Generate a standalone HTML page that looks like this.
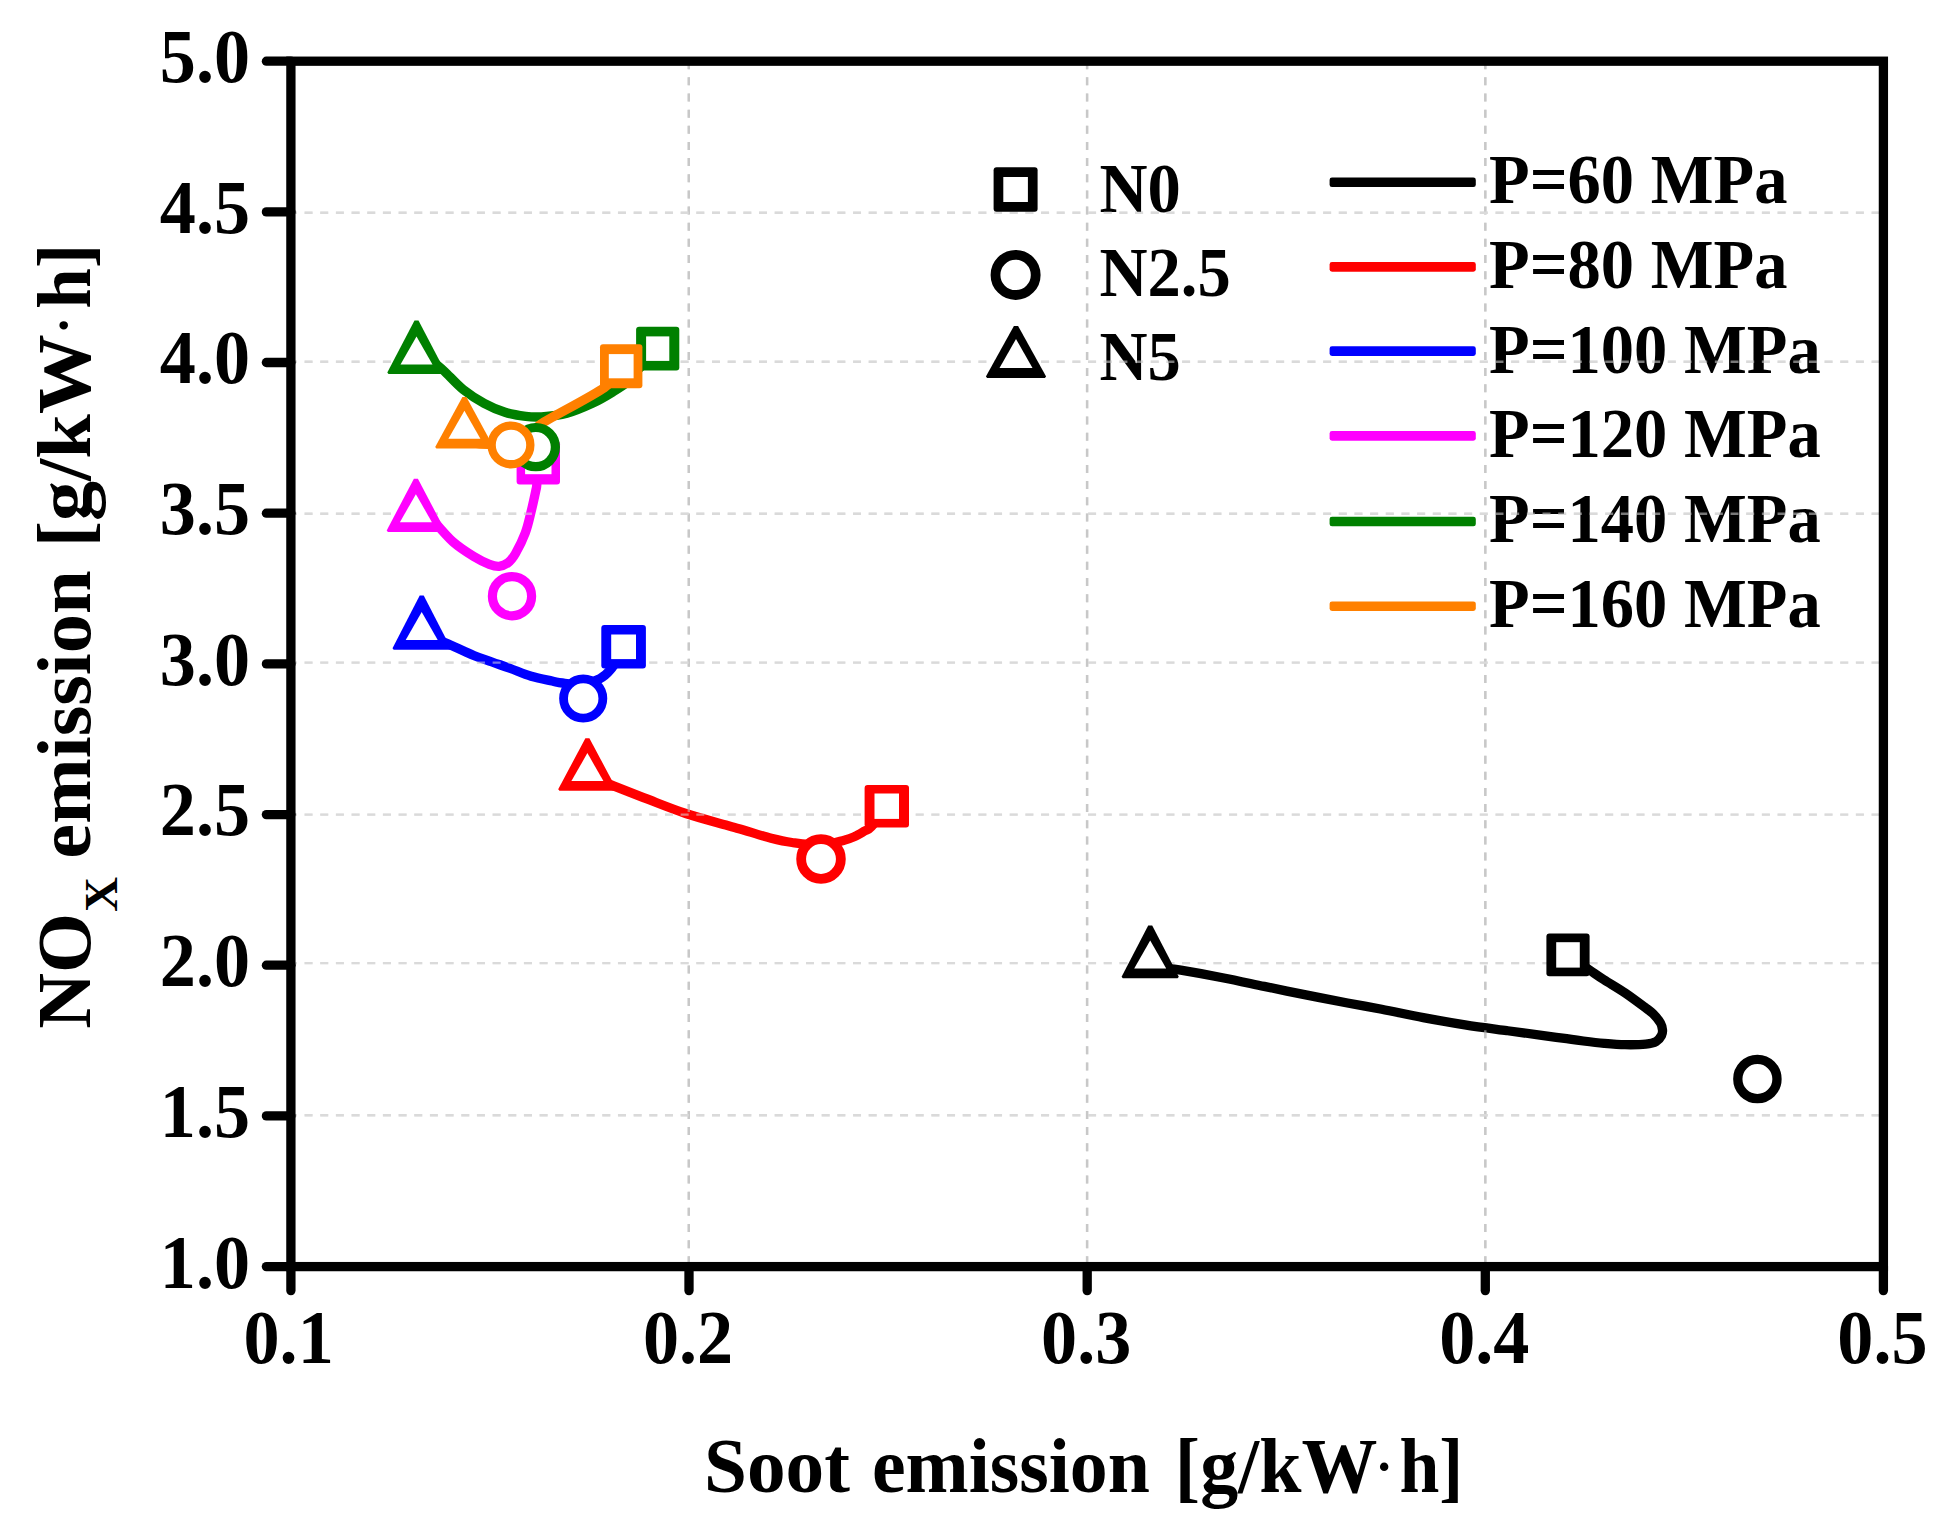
<!DOCTYPE html>
<html lang="en"><head><meta charset="utf-8"><title>NOx vs soot emission</title>
<style>html,body{margin:0;padding:0;background:#fff}body{width:1951px;height:1536px;overflow:hidden}svg{display:block}text{font-family:"Liberation Serif","Times New Roman",serif;font-weight:bold;fill:#000}</style></head><body>
<svg width="1951" height="1536" viewBox="0 0 1951 1536">
<rect width="1951" height="1536" fill="#fff"/>
<g id="grid" fill="none" stroke-width="2.4">
<line x1="688.8" y1="61.2" x2="688.8" y2="1266.6" stroke="#c8c8c8" stroke-dasharray="8 8.15"/>
<line x1="1087.1" y1="61.2" x2="1087.1" y2="1266.6" stroke="#c8c8c8" stroke-dasharray="8 8.15"/>
<line x1="1485.3" y1="61.2" x2="1485.3" y2="1266.6" stroke="#c8c8c8" stroke-dasharray="8 8.15"/>
<line x1="288.9" y1="212.7" x2="1883.4" y2="212.7" stroke="#dadada" stroke-dasharray="8 7.67"/>
<line x1="288.9" y1="361.7" x2="1883.4" y2="361.7" stroke="#dadada" stroke-dasharray="8 7.67"/>
<line x1="288.9" y1="513.7" x2="1883.4" y2="513.7" stroke="#dadada" stroke-dasharray="8 7.67"/>
<line x1="288.9" y1="662.6" x2="1883.4" y2="662.6" stroke="#dadada" stroke-dasharray="8 7.67"/>
<line x1="288.9" y1="814.6" x2="1883.4" y2="814.6" stroke="#dadada" stroke-dasharray="8 7.67"/>
<line x1="288.9" y1="963.1" x2="1883.4" y2="963.1" stroke="#dadada" stroke-dasharray="8 7.67"/>
<line x1="288.9" y1="1115.3" x2="1883.4" y2="1115.3" stroke="#dadada" stroke-dasharray="8 7.67"/>
</g>
<g id="legend-text">
<text transform="translate(1489.0,203.1) scale(0.9440,1)" font-size="70.5" text-anchor="start">P=60 MPa</text>
<text transform="translate(1489.0,288.1) scale(0.9440,1)" font-size="70.5" text-anchor="start">P=80 MPa</text>
<text transform="translate(1489.0,372.5) scale(0.9440,1)" font-size="70.5" text-anchor="start">P=100 MPa</text>
<text transform="translate(1489.0,456.8) scale(0.9440,1)" font-size="70.5" text-anchor="start">P=120 MPa</text>
<text transform="translate(1489.0,542.3) scale(0.9440,1)" font-size="70.5" text-anchor="start">P=140 MPa</text>
<text transform="translate(1489.0,627.2) scale(0.9440,1)" font-size="70.5" text-anchor="start">P=160 MPa</text>
<text transform="translate(1099.5,212.0) scale(0.9440,1)" font-size="70.5" text-anchor="start">N0</text>
<text transform="translate(1099.5,296.4) scale(0.9440,1)" font-size="70.5" text-anchor="start">N2.5</text>
<text transform="translate(1099.5,379.7) scale(0.9440,1)" font-size="70.5" text-anchor="start">N5</text>
</g>
<g id="curves" fill="none" stroke-width="9.3" stroke-linecap="round" stroke-linejoin="round">
<path d="M1165.0,968.0 C1167.6,968.4 1171.2,968.6 1180.8,970.2 C1190.4,971.8 1208.6,975.0 1222.5,977.7 C1236.4,980.4 1250.3,983.5 1264.2,986.4 C1278.1,989.3 1291.9,992.1 1305.8,994.9 C1319.7,997.7 1334.8,1000.6 1347.5,1003.0 C1360.2,1005.4 1369.1,1006.9 1381.7,1009.3 C1394.3,1011.7 1409.4,1015.0 1423.3,1017.6 C1437.2,1020.2 1451.1,1022.7 1465.0,1024.9 C1478.9,1027.1 1493.9,1028.9 1506.7,1030.6 C1519.5,1032.3 1532.4,1034.0 1541.7,1035.3 C1551.0,1036.6 1555.6,1037.2 1562.5,1038.2 C1569.4,1039.2 1576.3,1040.1 1583.3,1041.0 C1590.2,1041.9 1597.2,1042.8 1604.2,1043.4 C1611.2,1044.0 1618.1,1044.6 1625.0,1044.7 C1631.9,1044.8 1640.6,1044.7 1645.8,1044.2 C1651.0,1043.7 1653.6,1043.0 1656.2,1041.5 C1658.8,1040.0 1660.5,1037.4 1661.5,1035.5 C1662.5,1033.6 1662.7,1032.1 1662.5,1030.0 C1662.3,1027.9 1662.1,1025.7 1660.5,1023.0 C1658.9,1020.3 1655.5,1016.2 1653.1,1013.8 C1650.6,1011.2 1650.5,1011.5 1645.8,1008.0 C1641.1,1004.5 1631.9,997.6 1625.0,992.9 C1618.1,988.2 1610.1,983.7 1604.2,979.9 C1598.3,976.1 1595.6,974.1 1589.6,970.0 C1583.6,965.9 1571.6,957.5 1568.0,955.0" stroke="#000000"/>
<path d="M603.0,781.0 C604.6,781.8 606.0,782.8 612.9,785.6 C619.8,788.4 632.1,793.2 644.2,797.9 C656.4,802.5 671.9,808.9 685.8,813.5 C699.7,818.1 718.5,822.9 727.5,825.5 C736.5,828.1 732.7,826.9 740.0,829.0 C747.3,831.1 762.6,836.0 771.2,838.3 C779.9,840.5 783.7,841.4 792.0,842.5 C800.3,843.6 812.3,845.4 821.0,845.0 C829.7,844.6 838.6,841.6 844.2,840.2 C849.8,838.8 851.1,838.2 854.6,836.6 C858.1,835.0 862.2,832.4 865.0,830.8 C867.8,829.1 867.6,830.5 871.2,826.7 C874.9,822.9 884.2,811.1 886.8,808.0" stroke="#ff0000"/>
<path d="M438.0,640.0 C439.7,640.6 442.4,641.3 448.4,643.9 C454.4,646.5 466.5,652.5 473.8,655.5 C481.0,658.5 485.9,659.8 492.0,662.0 C498.1,664.2 503.9,666.1 510.4,668.5 C516.9,670.9 524.3,674.2 531.2,676.3 C538.2,678.4 546.9,679.9 552.1,681.0 C557.3,682.1 557.4,682.5 562.5,683.0 C567.6,683.5 576.8,684.7 583.0,684.0 C589.2,683.3 595.4,681.0 600.0,678.6 C604.6,676.2 606.4,674.6 610.4,669.8 C614.4,665.0 621.7,653.3 624.0,650.0" stroke="#0000ff"/>
<path d="M432.0,519.0 C435.5,522.8 445.9,535.5 452.9,541.8 C459.9,548.0 467.7,552.8 473.8,556.5 C479.8,560.2 485.2,562.7 489.4,564.3 C493.6,565.9 495.9,566.5 499.0,566.3 C502.1,566.0 505.2,564.9 508.0,562.8 C510.8,560.7 512.6,558.5 515.5,553.5 C518.4,548.5 522.7,539.8 525.3,532.9 C527.9,526.0 529.3,519.0 531.0,512.1 C532.7,505.2 534.7,495.9 535.7,491.2 C536.7,486.6 536.4,488.9 536.8,484.5 C537.2,480.1 537.8,468.2 538.0,465.0" stroke="#ff00ff"/>
<path d="M436.0,364.0 C437.4,365.2 440.1,367.2 444.6,371.5 C449.2,375.8 456.7,384.4 463.3,389.7 C469.9,395.0 477.2,399.6 484.2,403.4 C491.1,407.2 498.1,410.1 505.0,412.3 C511.9,414.5 519.7,415.6 525.8,416.3 C531.9,417.1 534.6,417.3 541.5,416.8 C548.4,416.3 558.3,415.5 566.9,413.2 C575.5,410.9 585.1,406.6 592.9,403.0 C600.7,399.4 607.6,395.1 613.8,391.3 C619.9,387.5 625.8,383.8 630.0,380.0 C634.2,376.2 635.3,372.5 639.0,368.5 C642.7,364.5 649.8,358.1 652.0,356.0" stroke="#008000"/>
<path d="M621.2,368.0 C618.4,371.3 617.3,378.6 604.4,387.6 C591.5,396.6 555.7,414.8 544.0,422.0 C532.3,429.2 539.5,427.7 534.0,431.0 C528.5,434.3 520.0,439.8 511.0,442.0 C502.0,444.2 487.8,445.0 480.0,444.0 C472.2,443.0 466.7,437.3 464.0,436.0" stroke="#ff8000"/>
</g>
<g id="legend-lines">
<rect x="1329.6" y="177.50" width="146.2" height="9.6" rx="2.4" fill="#000000"/>
<rect x="1329.6" y="262.10" width="146.2" height="9.6" rx="2.4" fill="#ff0000"/>
<rect x="1329.6" y="346.30" width="146.2" height="9.6" rx="2.4" fill="#0000ff"/>
<rect x="1329.6" y="431.10" width="146.2" height="9.6" rx="2.4" fill="#ff00ff"/>
<rect x="1329.6" y="516.70" width="146.2" height="9.6" rx="2.4" fill="#008000"/>
<rect x="1329.6" y="601.40" width="146.2" height="9.6" rx="2.4" fill="#ff8000"/>
</g>
<use href="#grid" opacity="0.55"/>
<g id="markers">
<polygon points="1122.8,978.2 1121.6,976.7 1148.2,925.4 1152.2,925.4 1178.8,976.7 1177.6,978.2" fill="#000000"/><polygon points="1134.2,968.5 1150.2,940.5 1166.2,968.5" fill="#fff"/>
<rect x="1546.4" y="933.6" width="43.2" height="42.6" rx="3.0" fill="#000000"/><rect x="1556.2" y="942.2" width="23.6" height="25.4" fill="#fff"/>
<circle cx="1757.4" cy="1079.0" r="19.60" fill="#fff" stroke="#000000" stroke-width="9.3"/>
<polygon points="559.4,790.8 558.2,789.3 585.4,738.2 589.4,738.2 616.6,789.3 615.4,790.8" fill="#ff0000"/><polygon points="571.4,781.1 587.4,753.1 603.4,781.1" fill="#fff"/>
<rect x="864.6" y="784.9" width="44.4" height="42.7" rx="3.0" fill="#ff0000"/><rect x="874.5" y="793.5" width="24.5" height="25.4" fill="#fff"/>
<circle cx="821.0" cy="859.0" r="19.85" fill="#fff" stroke="#ff0000" stroke-width="9.8"/>
<polygon points="393.7,649.8 392.5,648.3 419.7,595.6 423.7,595.6 450.9,648.3 449.7,649.8" fill="#0000ff"/><polygon points="405.7,640.1 421.7,612.1 437.7,640.1" fill="#fff"/>
<rect x="601.3" y="625.0" width="44.6" height="43.6" rx="3.0" fill="#0000ff"/><rect x="611.2" y="634.5" width="24.8" height="24.6" fill="#fff"/>
<circle cx="583.2" cy="698.5" r="19.65" fill="#fff" stroke="#0000ff" stroke-width="8.8"/>
<polygon points="387.9,531.9 386.7,530.4 413.9,478.8 417.9,478.8 445.1,530.4 443.9,531.9" fill="#ff00ff"/><polygon points="399.9,522.2 415.9,494.2 431.9,522.2" fill="#fff"/>
<rect x="516.6" y="441.3" width="43.4" height="43.2" rx="3.0" fill="#ff00ff"/><rect x="525.1" y="451.6" width="26.4" height="22.6" fill="#fff"/>
<circle cx="512.0" cy="596.2" r="19.60" fill="#fff" stroke="#ff00ff" stroke-width="9.2"/>
<polygon points="388.5,374.1 387.3,372.6 414.5,320.4 418.5,320.4 445.7,372.6 444.5,374.1" fill="#008000"/><polygon points="400.5,364.4 416.5,336.4 432.5,364.4" fill="#fff"/>
<rect x="636.1" y="326.8" width="43.2" height="43.6" rx="3.0" fill="#008000"/><rect x="646.1" y="336.4" width="23.2" height="24.5" fill="#fff"/>
<circle cx="535.8" cy="447.1" r="19.60" fill="#fff" stroke="#008000" stroke-width="9.2"/>
<polygon points="436.4,448.5 435.2,447.0 462.4,397.0 466.4,397.0 493.6,447.0 492.4,448.5" fill="#ff8000"/><polygon points="448.4,438.8 464.4,410.8 480.4,438.8" fill="#fff"/>
<rect x="600.0" y="344.2" width="42.4" height="44.0" rx="3.0" fill="#ff8000"/><rect x="608.8" y="354.1" width="24.8" height="24.2" fill="#fff"/>
<circle cx="511.0" cy="444.9" r="19.35" fill="#fff" stroke="#ff8000" stroke-width="8.3"/>
</g>
<g id="legend-markers">
<rect x="993.6" y="167.2" width="44.0" height="44.5" rx="3.0" fill="#000"/><rect x="1003.3" y="177.0" width="24.6" height="25.0" fill="#fff"/>
<circle cx="1015.6" cy="274.9" r="20.10" fill="#fff" stroke="#000" stroke-width="9.8"/>
<polygon points="987.1,377.9 985.9,376.4 1013.9,326.0 1018.1,326.0 1046.1,376.4 1044.9,377.9" fill="#000"/><polygon points="999.5,367.9 1016.0,339.1 1032.5,367.9" fill="#fff"/>
</g>
<g id="axes" fill="none" stroke="#000" stroke-width="9.3">
<rect x="290.9" y="61.2" width="1592.5" height="1205.4"/>
<g stroke-linecap="round">
<line x1="266.4" y1="1266.6" x2="290.9" y2="1266.6"/>
<line x1="266.4" y1="1115.9" x2="290.9" y2="1115.9"/>
<line x1="266.4" y1="965.2" x2="290.9" y2="965.2"/>
<line x1="266.4" y1="814.6" x2="290.9" y2="814.6"/>
<line x1="266.4" y1="663.9" x2="290.9" y2="663.9"/>
<line x1="266.4" y1="513.2" x2="290.9" y2="513.2"/>
<line x1="266.4" y1="362.5" x2="290.9" y2="362.5"/>
<line x1="266.4" y1="211.9" x2="290.9" y2="211.9"/>
<line x1="266.4" y1="61.2" x2="290.9" y2="61.2"/>
<line x1="290.9" y1="1266.6" x2="290.9" y2="1290.6"/>
<line x1="689.0" y1="1266.6" x2="689.0" y2="1290.6"/>
<line x1="1087.2" y1="1266.6" x2="1087.2" y2="1290.6"/>
<line x1="1485.3" y1="1266.6" x2="1485.3" y2="1290.6"/>
<line x1="1883.4" y1="1266.6" x2="1883.4" y2="1290.6"/>
</g></g>
<g id="ticklabels">
<text transform="translate(250.1,1288.4) scale(0.9500,1)" font-size="76.0" text-anchor="end">1.0</text>
<text transform="translate(250.1,1136.7) scale(0.9500,1)" font-size="76.0" text-anchor="end">1.5</text>
<text transform="translate(250.1,986.0) scale(0.9500,1)" font-size="76.0" text-anchor="end">2.0</text>
<text transform="translate(250.1,835.4) scale(0.9500,1)" font-size="76.0" text-anchor="end">2.5</text>
<text transform="translate(250.1,684.7) scale(0.9500,1)" font-size="76.0" text-anchor="end">3.0</text>
<text transform="translate(250.1,534.0) scale(0.9500,1)" font-size="76.0" text-anchor="end">3.5</text>
<text transform="translate(250.1,383.3) scale(0.9500,1)" font-size="76.0" text-anchor="end">4.0</text>
<text transform="translate(250.1,232.7) scale(0.9500,1)" font-size="76.0" text-anchor="end">4.5</text>
<text transform="translate(250.1,82.0) scale(0.9500,1)" font-size="76.0" text-anchor="end">5.0</text>
<text transform="translate(288.6,1362.8) scale(0.9500,1)" font-size="76.0" text-anchor="middle">0.1</text>
<text transform="translate(688.0,1362.8) scale(0.9500,1)" font-size="76.0" text-anchor="middle">0.2</text>
<text transform="translate(1086.2,1362.8) scale(0.9500,1)" font-size="76.0" text-anchor="middle">0.3</text>
<text transform="translate(1484.3,1362.8) scale(0.9500,1)" font-size="76.0" text-anchor="middle">0.4</text>
<text transform="translate(1882.4,1362.8) scale(0.9500,1)" font-size="76.0" text-anchor="middle">0.5</text>
</g>
<g id="xtitle">
<text transform="translate(703.94,1492.20) scale(0.9904,1)" font-size="78.0">Soot</text>
<text transform="translate(871.96,1492.20) scale(0.9716,1)" font-size="78.0">emission</text>
<text transform="translate(1174.83,1492.20) scale(0.9741,1)" font-size="78.0">[g/kW</text>
<text transform="translate(1375.50,1484.00) scale(1.0000,1)" font-size="52.0">·</text>
<text transform="translate(1399.38,1492.20) scale(0.9183,1)" font-size="78.0">h]</text>
</g>
<g id="ytitle" transform="translate(89.5,1027.7) rotate(-90)">
<text transform="translate(-1.00,0.00) scale(1.0026,1)" font-size="77.0">NO</text>
<text transform="translate(115.70,27.00) scale(1.0324,1)" font-size="47.0">X</text>
<text transform="translate(169.06,0.00) scale(1.0217,1)" font-size="77.0">emission</text>
<text transform="translate(480.10,0.00) scale(1.0393,1)" font-size="77.0">[g/kW</text>
<text transform="translate(693.70,-8.20) scale(1.0000,1)" font-size="52.0">·</text>
<text transform="translate(718.85,0.00) scale(0.9479,1)" font-size="77.0">h]</text>
</g>
</svg></body></html>
